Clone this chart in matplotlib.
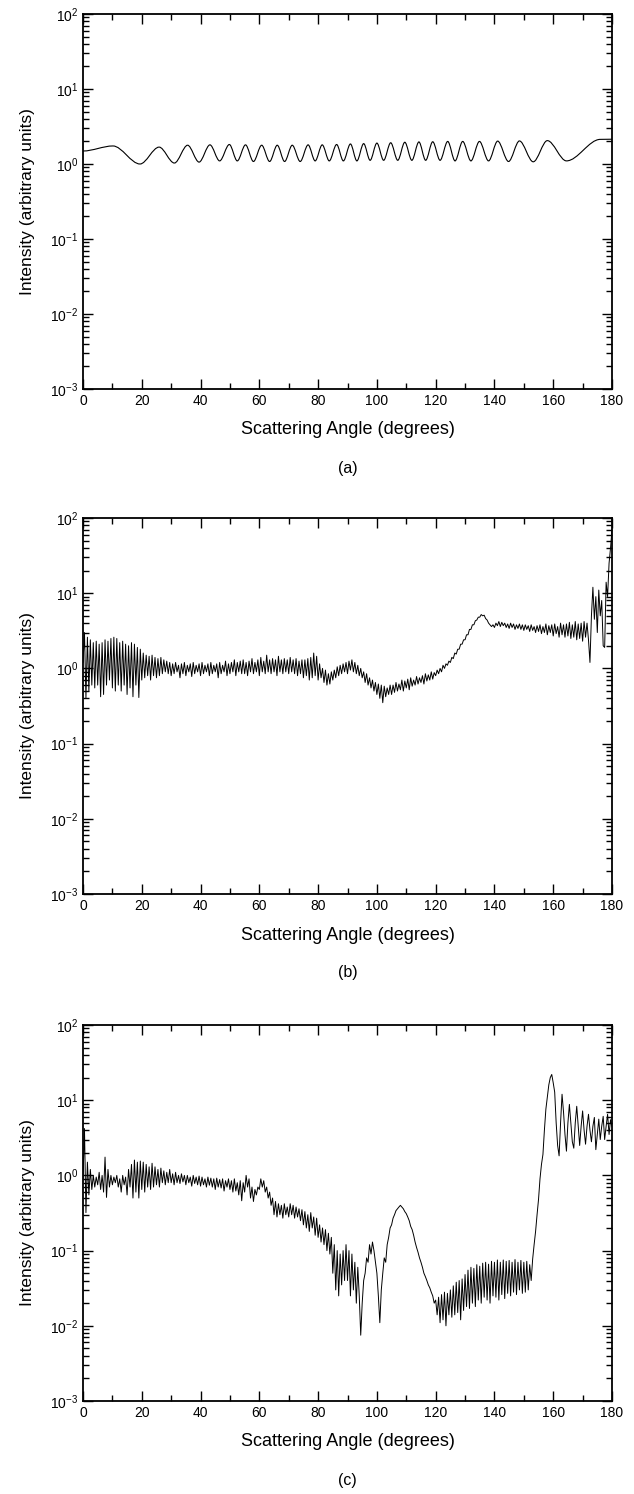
import numpy as np
import matplotlib
matplotlib.use("Agg")
import matplotlib.pyplot as plt
from matplotlib.ticker import MultipleLocator, LogLocator, NullFormatter
from matplotlib.path import Path
from matplotlib.patches import PathPatch

plt.rcParams["font.family"] = ["Liberation Sans", "DejaVu Sans"]
plt.rcParams["mathtext.fontset"] = "custom"
plt.rcParams["mathtext.rm"] = "Liberation Sans"

# (a) smooth oscillation: angles of maxima/minima and their intensities
a_angle = [0, 10.2, 19.4, 25.9, 31.1, 35.6, 39.5, 43.2, 46.5, 49.8, 52.5,
           55.3, 58.0, 60.8, 63.5, 66.1, 68.6, 71.2, 73.9, 76.6, 79.0, 81.4,
           83.8, 86.3, 88.6, 91.0, 93.2, 95.5, 97.7, 100.0, 102.3, 104.7,
           107.1, 109.5, 111.9, 114.3, 116.6, 119.0, 121.5, 124.1, 126.6,
           129.2, 132.0, 134.9, 138.0, 141.1, 144.8, 148.5, 153.2, 158.0,
           164.5, 176.0, 180.0]
a_int = [1.49, 1.74, 1.0, 1.68, 1.03, 1.78, 1.06, 1.8, 1.1, 1.82, 1.1,
         1.8, 1.08, 1.78, 1.08, 1.78, 1.08, 1.78, 1.08, 1.8, 1.1, 1.8,
         1.1, 1.82, 1.1, 1.85, 1.1, 1.87, 1.12, 1.9, 1.12, 1.92,
         1.12, 1.95, 1.12, 1.97, 1.12, 1.98, 1.12, 2.0, 1.1,
         2.0, 1.1, 2.0, 1.1, 2.02, 1.08, 2.03, 1.07, 2.05,
         1.1, 2.13, 2.14]

# (b) and (c): intensity every 0.5 degree from 0 to 180
b_int = [
    1.2, 3.0, 0.4, 2.6, 0.5, 2.4, 0.6, 2.2, 0.55, 2.3,
    0.6, 2.1, 0.42, 2.2, 0.45, 2.4, 0.6, 2.3, 0.7, 2.5,
    0.55, 2.6, 0.5, 2.5, 0.6, 2.2, 0.5, 2.3, 0.6, 2.1,
    0.45, 2.0, 0.55, 2.2, 0.42, 2.1, 0.6, 1.9, 0.41, 1.8,
    0.7, 1.6, 0.75, 1.5, 0.8, 1.45, 0.7, 1.5, 0.8, 1.4,
    0.75, 1.35, 0.8, 1.4, 0.85, 1.3, 0.9, 1.25, 0.85, 1.2,
    0.8, 1.15, 0.85, 1.2, 0.9, 1.1, 0.75, 1.15, 0.85, 1.2,
    0.8, 1.1, 0.9, 1.15, 0.78, 1.2, 0.85, 1.1, 0.9, 1.15,
    0.8, 1.2, 0.85, 1.1, 0.9, 1.15, 0.8, 1.2, 0.85, 1.1,
    0.9, 1.15, 0.75, 1.2, 0.85, 1.1, 0.9, 1.25, 0.8, 1.15,
    0.85, 1.2, 0.9, 1.3, 0.8, 1.2, 0.9, 1.25, 0.85, 1.3,
    0.85, 1.2, 0.8, 1.25, 0.9, 1.35, 0.85, 1.2, 0.9, 1.3,
    0.8, 1.4, 0.9, 1.25, 0.85, 1.5, 0.9, 1.3, 0.85, 1.35,
    0.9, 1.3, 0.8, 1.45, 0.9, 1.3, 0.85, 1.35, 0.9, 1.3,
    0.85, 1.4, 0.9, 1.3, 0.85, 1.35, 0.8, 1.25, 0.85, 1.3,
    0.75, 1.3, 0.8, 1.35, 0.7, 1.4, 0.75, 1.6, 0.8, 1.45,
    0.7, 1.15, 0.75, 1.0, 0.65, 0.95, 0.6, 0.85, 0.62, 0.9,
    0.7, 0.95, 0.75, 1.05, 0.8, 1.1, 0.85, 1.15, 0.9, 1.2,
    0.85, 1.25, 0.95, 1.3, 0.9, 1.2, 0.85, 1.1, 0.8, 1.0,
    0.75, 0.9, 0.65, 0.85, 0.6, 0.75, 0.55, 0.7, 0.5, 0.65,
    0.45, 0.62, 0.4, 0.6, 0.35, 0.58, 0.42, 0.55, 0.45, 0.6,
    0.45, 0.6, 0.48, 0.65, 0.5, 0.62, 0.52, 0.7, 0.5, 0.68,
    0.55, 0.72, 0.52, 0.75, 0.58, 0.7, 0.6, 0.78, 0.62, 0.75,
    0.65, 0.8, 0.62, 0.85, 0.68, 0.82, 0.7, 0.9, 0.72, 0.88,
    0.8, 0.95, 0.85, 1.0, 0.9, 1.1, 1.0, 1.15, 1.1, 1.25,
    1.2, 1.4, 1.35, 1.6, 1.55, 1.8, 1.8, 2.1, 2.1, 2.4,
    2.4, 2.8, 2.8, 3.3, 3.3, 3.8, 3.8, 4.3, 4.4, 4.8,
    4.8, 5.2, 5.0, 5.1, 4.6, 4.4, 4.0, 3.8, 3.6, 3.8,
    3.5, 4.0, 3.7, 4.2, 3.6, 4.1, 3.7, 4.0, 3.5, 3.9,
    3.4, 4.0, 3.5, 3.9, 3.3, 3.8, 3.4, 3.9, 3.3, 3.8,
    3.2, 3.8, 3.3, 3.7, 3.1, 3.8, 3.2, 3.6, 3.0, 3.7,
    3.1, 3.8, 2.9, 3.6, 3.0, 3.9, 2.8, 3.7, 3.0, 3.8,
    2.7, 3.9, 2.9, 3.6, 2.6, 4.0, 2.8, 3.8, 2.6, 3.9,
    2.7, 4.1, 2.5, 3.8, 2.6, 4.2, 2.4, 3.9, 2.5, 4.0,
    2.3, 4.2, 2.6, 4.0, 2.4, 1.2, 5.0, 12.0, 4.5, 9.0,
    3.0, 11.0, 5.0, 8.0, 2.0, 1.9, 14.0, 9.0, 25.0, 40.0,
    70.0,
]

c_int = [
    0.9, 4.2, 0.32, 1.5, 0.55, 1.2, 0.65, 1.0, 0.7, 0.95,
    0.75, 1.1, 0.65, 1.0, 0.6, 1.75, 0.51, 1.2, 0.7, 1.0,
    0.75, 0.95, 0.8, 1.0, 0.7, 0.9, 0.6, 1.0, 0.75, 0.95,
    0.55, 1.2, 0.7, 1.4, 0.5, 1.6, 0.6, 1.5, 0.5, 1.55,
    0.65, 1.5, 0.6, 1.4, 0.7, 1.3, 0.65, 1.45, 0.7, 1.3,
    0.75, 1.2, 0.7, 1.25, 0.8, 1.15, 0.75, 1.1, 0.8, 1.2,
    0.8, 1.05, 0.75, 1.1, 0.8, 1.0, 0.78, 1.05, 0.82, 1.0,
    0.75, 1.0, 0.8, 0.95, 0.72, 1.0, 0.78, 0.95, 0.75, 0.98,
    0.72, 0.95, 0.75, 0.9, 0.7, 0.95, 0.74, 0.92, 0.7, 0.9,
    0.65, 0.92, 0.7, 0.88, 0.68, 0.9, 0.62, 0.85, 0.7, 0.9,
    0.65, 0.85, 0.6, 0.9, 0.62, 0.8, 0.55, 0.85, 0.46, 0.8,
    0.6, 1.0, 0.7, 0.9, 0.5, 0.7, 0.45, 0.65, 0.55, 0.7,
    0.65, 0.9, 0.7, 0.85, 0.6, 0.7, 0.5, 0.6, 0.4, 0.5,
    0.3, 0.45, 0.28, 0.42, 0.3, 0.4, 0.27, 0.42, 0.3, 0.38,
    0.28, 0.42, 0.3, 0.4, 0.27, 0.38, 0.28, 0.36, 0.25, 0.35,
    0.22, 0.33, 0.2, 0.3, 0.18, 0.32, 0.2, 0.28, 0.16, 0.27,
    0.15, 0.22, 0.13, 0.2, 0.12, 0.19, 0.1, 0.17, 0.09, 0.15,
    0.05, 0.12, 0.03, 0.1, 0.025, 0.09, 0.035, 0.1, 0.04, 0.12,
    0.04, 0.1, 0.025, 0.09, 0.03, 0.07, 0.02, 0.06, 0.025, 0.0075,
    0.02, 0.04, 0.05, 0.08, 0.07, 0.12, 0.09, 0.13, 0.1, 0.07,
    0.05, 0.025, 0.011, 0.03, 0.05, 0.08, 0.07, 0.12, 0.15, 0.2,
    0.22, 0.27, 0.3, 0.34, 0.36, 0.38, 0.4, 0.38, 0.36, 0.33,
    0.31, 0.28, 0.25, 0.21, 0.19, 0.16, 0.13, 0.11, 0.095, 0.08,
    0.07, 0.06, 0.05, 0.045, 0.04, 0.035, 0.032, 0.028, 0.025, 0.02,
    0.022, 0.014, 0.024, 0.011, 0.026, 0.012, 0.028, 0.01, 0.027, 0.014,
    0.03, 0.013, 0.034, 0.014, 0.038, 0.015, 0.04, 0.012, 0.042, 0.016,
    0.048, 0.018, 0.055, 0.017, 0.06, 0.02, 0.058, 0.018, 0.065, 0.022,
    0.062, 0.02, 0.068, 0.024, 0.07, 0.022, 0.066, 0.02, 0.072, 0.025,
    0.07, 0.024, 0.075, 0.022, 0.07, 0.026, 0.075, 0.023, 0.072, 0.027,
    0.074, 0.025, 0.07, 0.028, 0.076, 0.026, 0.07, 0.03, 0.074, 0.027,
    0.07, 0.028, 0.072, 0.03, 0.065, 0.04, 0.077, 0.12, 0.18, 0.3,
    0.48, 0.9, 1.4, 1.9, 4.0, 7.6, 11.0, 16.0, 20.0, 22.0,
    17.0, 12.8, 5.0, 2.5, 1.82, 5.0, 12.0, 7.0, 3.5, 2.1,
    5.0, 8.8, 5.0, 2.8, 2.3, 5.0, 8.3, 4.5, 2.5, 4.5,
    7.2, 4.0, 2.6, 4.5, 6.5, 4.0, 2.8, 4.5, 5.9, 2.2,
    3.5, 5.6, 3.0, 4.5, 6.1, 3.0, 4.5, 6.5, 3.5, 5.5,
    4.5,
]
bc_angle = np.linspace(0, 180, 361)

panel_letters = ["(a)", "(b)", "(c)"]


def smooth_path(xs, ys):
    # cubic segments with flat tangents at each turning point
    verts = [(xs[0], ys[0])]
    codes = [Path.MOVETO]
    for i in range(1, len(xs)):
        dx = xs[i] - xs[i - 1]
        verts += [(xs[i - 1] + dx / 3, ys[i - 1]), (xs[i] - dx / 3, ys[i]), (xs[i], ys[i])]
        codes += [Path.CURVE4] * 3
    return Path(verts, codes)


fig = plt.figure(figsize=(6.34, 14.94), dpi=100)

left, width = 83 / 634, 529 / 634
# axes boxes in pixels: top edge, bottom edge
boxes = [(14, 389), (518, 894), (1025, 1401)]

axes = []
for (top, bot), letter in zip(boxes, panel_letters):
    ax = fig.add_axes([left, 1 - bot / 1494, width, (bot - top) / 1494])
    ax.set_yscale("log")
    ax.set_xlim(0, 180)
    ax.set_ylim(1e-3, 1e2)
    ax.xaxis.set_major_locator(MultipleLocator(20))
    ax.xaxis.set_minor_locator(MultipleLocator(10))
    ax.yaxis.set_major_locator(LogLocator(base=10, numticks=10))
    ax.yaxis.set_minor_locator(LogLocator(base=10, subs=np.arange(2, 10), numticks=10))
    ax.yaxis.set_minor_formatter(NullFormatter())
    ax.tick_params(which="both", direction="in", top=True, right=True,
                   labelsize=10, width=1.0)
    ax.tick_params(which="major", length=7)
    ax.tick_params(which="minor", length=4)
    for s in ax.spines.values():
        s.set_linewidth(1.3)
    ax.set_ylabel("Intensity (arbitrary units)", fontsize=12.5)
    ax.yaxis.set_label_coords(-0.09, 0.5)
    fig.text(left + width / 2, 1 - (bot + 41) / 1494, "Scattering Angle (degrees)",
             ha="center", va="center", fontsize=13)
    fig.text(left + width / 2, 1 - (bot + 79) / 1494, letter,
             ha="center", va="center", fontsize=11.5)
    axes.append(ax)

axes[0].add_patch(PathPatch(smooth_path(a_angle, a_int), fill=False,
                            edgecolor="black", lw=0.8))
axes[1].plot(bc_angle, b_int, color="black", lw=0.7)
axes[2].plot(bc_angle, c_int, color="black", lw=0.7)

fig.savefig("out.png", dpi=100)
